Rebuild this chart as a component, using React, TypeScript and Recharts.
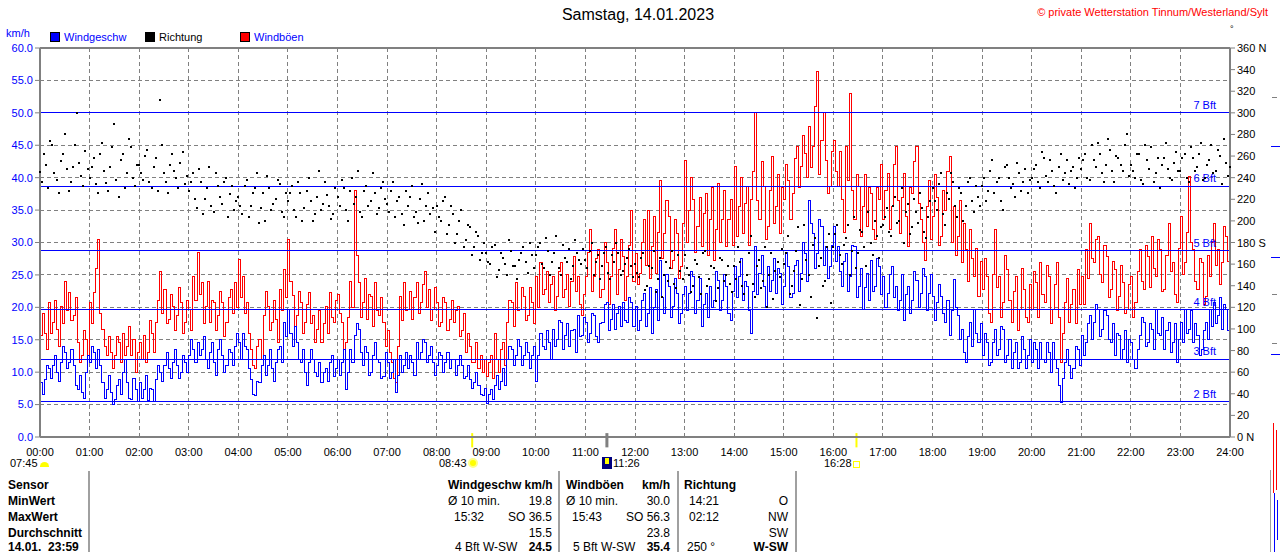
import React from 'react';
import { ComposedChart, Line, Scatter, XAxis, YAxis, CartesianGrid, ReferenceLine } from 'recharts';

// Time-axis tick labels (one per hour)
const hourLabels = [
  '00:00', '01:00', '02:00', '03:00', '04:00', '05:00', '06:00', '07:00', '08:00', '09:00', '10:00', '11:00', '12:00',
  '13:00', '14:00', '15:00', '16:00', '17:00', '18:00', '19:00', '20:00', '21:00', '22:00', '23:00', '24:00',
];
const kmTicks = [0, 5, 10, 15, 20, 25, 30, 35, 40, 45, 50, 55, 60];
const degTicks = [0, 20, 40, 60, 80, 100, 120, 140, 160, 180, 200, 220, 240, 260, 280, 300, 320, 340, 360];

// Wind speed km/h at every full 5 minutes, 00:00 .. 24:00 (12 per hour)
const speedKmh = [
  8.4, 8.9, 10.5, 11, 10, 11.5, 13, 11.5, 11, 7.4, 6.9, 10,
  11.5, 13, 13.5, 8.4, 7.4, 6.9, 5.8, 8.9, 10, 8.4, 5.8, 7.4,
  8.4, 7.4, 5.6, 7.4, 8.9, 10, 11, 10.5, 11.5, 11, 10, 11.5,
  12.5, 13.5, 14.6, 13.5, 12, 13, 11.5, 13.5, 12.5, 11, 13, 14,
  14.6, 16, 13.5, 8.9, 6.4, 8.4, 12.5, 11, 10.5, 11.5, 14, 17.6,
  19.7, 14, 14.6, 11.5, 10, 11.5, 12, 9.4, 8.4, 10.5, 11.5, 9.4,
  12, 11.5, 7.4, 13.5, 15.6, 16.6, 11, 13, 10, 14.6, 11.5, 9.4,
  11.5, 10, 6.9, 12.5, 11, 10.5, 11.5, 14.6, 13, 14.6, 12.5, 11.5,
  11, 12.5, 11.5, 10.5, 12, 11, 11, 9.4, 8.9, 8.4, 7.9, 6.4,
  5.1, 7.4, 7.9, 7.4, 10.5, 12, 13.5, 12.5, 14, 12.5, 13, 12.5,
  8.5, 16, 13.5, 14.6, 16.6, 15, 17.6, 15.6, 14, 16.6, 18.7, 15.6,
  17.6, 16, 18.7, 14.6, 17.6, 20.7, 18.2, 16.6, 20.2, 20.7, 17.6, 20.7,
  20.1, 18, 22.1, 19, 16, 22.7, 27.3, 19, 23.2, 20.1, 22.1, 19,
  23.2, 22.1, 24.7, 21.1, 17, 22.1, 23.2, 21.1, 24.2, 21.1, 23.2, 18,
  26.3, 24.7, 21.1, 23.2, 16, 29.4, 25.2, 23.2, 26.3, 24.2, 22.1, 25.2,
  23.2, 26.3, 22.1, 27.3, 25.2, 28.3, 36.5, 31.4, 28.3, 32.4, 29.4, 26.3,
  32.4, 29.4, 23.2, 28.3, 24.7, 29.4, 23.2, 19.6, 25.2, 27.3, 23.2, 26.3,
  24.7, 22.1, 26.3, 23.2, 21.1, 18, 23.2, 21.1, 24.2, 22.1, 24.7, 22.1,
  21.7, 20.7, 21.7, 17.6, 15.6, 24.3, 18.7, 16.6, 11.5, 17.6, 19.7, 14.6,
  12.5, 14.6, 11.5, 16.6, 13.5, 16.6, 12.5, 10.5, 14.6, 11.5, 13.5, 12.5,
  11.5, 13.5, 14.6, 11.5, 13, 14.6, 10.5, 5.3, 11.5, 11, 10.5, 13.5,
  15.6, 14.6, 18.7, 17.6, 19.7, 16.6, 18.7, 14.6, 12.5, 15.6, 13.5, 11.5,
  14.6, 10.5, 15.6, 17.6, 14.6, 16.6, 19.7, 15.6, 13.5, 17.6, 14.6, 11.5,
  17.6, 19.7, 16.6, 14.6, 15.6, 13.5, 17.6, 19.7, 20.7, 18.7, 16.6, 19.7,
  24.8,
];
// Wind speed km/h half-way between those samples (xx:02.5, xx:07.5, ...)
const speedMidKmh = [
  6.5, 11, 9, 12.5, 8.5, 14, 10.5, 13.5, 8, 9.5, 6, 12.5,
  14, 10.5, 11, 6, 9.5, 5, 8, 6.5, 12, 6, 9, 5.5,
  6, 9.5, 7.5, 5.5, 11, 8.5, 13, 9, 13.5, 9, 12.5, 10,
  15, 11.5, 12.5, 15.5, 10.5, 14.5, 9.5, 15, 10, 13.5, 11, 16,
  12, 14, 10.5, 6.5, 8.5, 11, 9.5, 13.5, 8.5, 13.5, 11.5, 15.5,
  16, 17, 12, 13.5, 8, 13.5, 10, 11.5, 10, 8.5, 12.5, 10.5,
  9.5, 13.5, 10, 11.5, 17.5, 13, 14, 9.5, 12.5, 12, 9, 13,
  9, 12, 9.5, 10, 13, 12.5, 9.5, 12, 15, 11.5, 14, 9.5,
  13, 10, 13, 12, 9.5, 12.5, 9, 11, 7.5, 10, 6.5, 7.5,
  6.5, 5.8, 9.5, 8.5, 8, 14, 11, 15, 11, 14.5, 10.5, 14,
  12.5, 14, 16.5, 12, 14, 18, 13.5, 17.5, 16.5, 13, 15.5, 18.5,
  14.5, 19, 15.5, 17.5, 20.5, 16.5, 20.5, 19, 17, 18, 21.5, 17,
  16.5, 21, 17, 23, 20, 18, 21.5, 25, 18.5, 24.5, 17.5, 22,
  19.5, 25.5, 19, 24.5, 20.5, 18.5, 20, 25.5, 19.5, 25, 19, 22.5,
  21.5, 27.5, 24, 19.5, 22.5, 22, 28, 20, 22.5, 27.5, 26, 20.5,
  28.5, 21.5, 26.5, 22.5, 30, 24, 33, 26, 33.5, 26.5, 24.5, 29.5,
  27, 25.5, 27, 22.5, 29.5, 21.5, 26, 23, 21, 22.5, 27.5, 22,
  20, 25, 21.5, 19.5, 25, 22, 19, 25.5, 20, 26, 19.5, 25,
  18, 23.5, 19, 21, 19.5, 20, 15, 13, 15.5, 14, 16, 17.5,
  16, 11, 14.5, 12.5, 17, 11.5, 15, 13, 10.5, 15.5, 10.5, 15,
  14.5, 10.5, 12, 14.5, 10, 12, 8, 9, 13.5, 9, 14, 11,
  12.5, 17.5, 15, 20.5, 15.5, 19.5, 15, 17.5, 16, 12, 16.5, 15,
  12, 13.5, 18.5, 14, 17.5, 13.5, 16, 18.5, 16.5, 13, 17.5, 15,
  14.5, 16, 19.5, 17.5, 12.5, 16.5, 15, 17, 17.5, 21.5, 20.5, 16.5,
];

// Wind gusts km/h at every full 5 minutes
const gustKmh = [
  15.6, 16, 20.7, 17.6, 16.6, 20.2, 24, 22.3, 18.7, 14.6, 12.5, 15,
  20.7, 22.3, 30.5, 16.6, 12.5, 13, 12.5, 14.6, 16, 14, 12.5, 10,
  14.6, 15.6, 13, 16, 17.6, 25.6, 22.8, 18.2, 20.2, 18.7, 20.7, 17.6,
  19.7, 24.8, 28.4, 23.8, 20.2, 17.6, 20.7, 18.7, 20.7, 17.6, 22.8, 23.8,
  27.4, 24.8, 20.7, 13.5, 10.5, 15, 18.7, 20.2, 17.6, 18.2, 22.8, 25.8,
  30.5, 21.8, 18.7, 20.7, 17.6, 22.3, 18.7, 16.6, 14.6, 20.2, 22.3, 17.6,
  22, 17.6, 14.6, 24, 38, 23.8, 20.7, 18.2, 21.6, 23.8, 18.7, 17.6,
  16.5, 11.5, 8.4, 21.6, 23.8, 19.7, 18.2, 23.8, 20.7, 25.6, 22.8, 19.7,
  20.7, 17.6, 20.7, 18.2, 17.6, 20.2, 16.5, 13, 14, 11.5, 10.5, 10,
  9.4, 12.5, 16, 10, 14.6, 17.6, 20.7, 23.8, 19.7, 21.6, 18.7, 20.7,
  24.8, 26.9, 22.8, 20.7, 24.8, 21.6, 26.9, 22.8, 20.2, 27.9, 24.8, 18.7,
  24.8, 32, 24.8, 28.9, 22.8, 26.9, 24.8, 32, 25.8, 27.9, 24.8, 35,
  28.3, 25.2, 33.5, 35, 29.4, 25.2, 39.6, 31.4, 34, 27.3, 31.4, 26.3,
  42.7, 35, 36.6, 32.4, 29.4, 37.6, 33.5, 27.3, 39.1, 33.5, 29.4, 36.6,
  41.7, 35.5, 31.4, 38.6, 36.6, 50, 33.5, 38.6, 32.4, 43.3, 35.5, 31.4,
  36.6, 39.6, 37.6, 44.8, 41.7, 43.8, 47.9, 44.8, 56.3, 45.8, 42.7, 38.6,
  45.8, 38.6, 36.6, 44.8, 53, 33.5, 38.6, 35.5, 32.4, 37.6, 30.4, 36.6,
  33.5, 40.7, 35.5, 44.8, 31.4, 40.7, 29.4, 37.6, 44.8, 33.5, 27.3, 39.6,
  34, 37, 31, 35, 43.3, 35.6, 31, 26.9, 28.9, 32, 24.8, 21.6,
  22.8, 24.8, 17.6, 32, 24.8, 20.7, 25.8, 17.6, 24.8, 19.7, 22.8, 17.6,
  19.7, 23.8, 26.9, 20.7, 24.8, 19.7, 26.9, 11.5, 20.7, 17.6, 22.8, 25.8,
  24.8, 28.9, 33, 26.9, 31, 23.8, 27.9, 22.8, 25.8, 21.6, 23.8, 19.7,
  24.8, 20.7, 28.9, 22.8, 27.9, 31, 24.8, 28.9, 22.8, 33, 26.9, 20.7,
  34, 26.9, 40.2, 28.9, 22.8, 26.9, 21.6, 24.8, 33, 28.9, 26.9, 31,
  35,
];
// Wind gusts km/h half-way between those samples
const gustMidKmh = [
  19, 13.5, 16, 21, 14, 17.5, 19.5, 18, 21.5, 11.5, 16.5, 12,
  17.5, 26, 19, 14, 15.5, 10.5, 15.5, 11.5, 12.5, 17, 15, 13,
  12, 11.5, 18, 13, 21, 19, 17.5, 22, 16.5, 23, 16, 21,
  16.5, 21, 22, 17.5, 24, 21, 16.5, 22.5, 15.5, 21.5, 19, 20,
  21.5, 19, 16, 11, 14, 12, 22.5, 16.5, 21, 14.5, 19.5, 21.5,
  24, 17, 22.5, 16, 20.5, 17.5, 14.5, 19.5, 17.5, 16, 18.5, 21,
  19, 13.5, 18.5, 20, 28, 18.5, 24.5, 22, 17, 19.5, 21.5, 14,
  13, 9, 14, 18, 19.5, 22.5, 21.5, 19, 23.5, 20, 18, 23,
  17, 21.5, 16.5, 21, 19.5, 15.5, 19, 16, 11.5, 14.5, 12.5, 12,
  11.5, 9, 12, 13.5, 11, 21, 17, 19.5, 23, 18, 23, 17.5,
  20, 22, 25.5, 23.5, 19.5, 25.5, 21.5, 25, 24, 22.5, 20.5, 22,
  28.5, 22.5, 27.5, 21.5, 30, 20.5, 29, 22, 30.5, 21, 29.5, 24,
  23.5, 30, 26.5, 24.5, 34, 31.5, 27.5, 36.5, 26, 33.5, 24.5, 33,
  30, 40, 28.5, 37, 34.5, 28, 38.5, 32, 30, 38, 33.5, 29.5,
  31, 40, 36, 29.5, 41, 36.5, 42.5, 30.5, 38, 33, 40.5, 38.5,
  42, 33.5, 43, 38.5, 46.5, 40, 41.5, 51, 40.5, 50, 37.5, 44,
  41, 44, 31.5, 39.5, 38, 40.5, 31, 40.5, 38.5, 32, 38.5, 42,
  38, 32, 42, 36.5, 37, 34, 38.5, 42.5, 36, 30, 35.5, 30.5,
  40.5, 29.5, 38, 41, 30, 28, 36.5, 33, 24, 27.5, 29, 27,
  27.5, 19, 25, 23, 18.5, 28, 21, 22.5, 16.5, 26, 18.5, 23.5,
  25.5, 18.5, 22, 26.5, 17.5, 23.5, 18.5, 16, 24.5, 20.5, 17.5, 20.5,
  20.5, 24.5, 27.5, 30.5, 25, 29.5, 21.5, 27, 19.5, 26.5, 19, 23.5,
  18.5, 25.5, 24, 29.5, 23, 26, 30.5, 22.5, 28, 25.5, 22, 29,
  25, 31.5, 30, 24, 27.5, 20.5, 28, 30, 26.5, 23.5, 32.5, 27,
];

// Wind direction in degrees at every full 5 minutes
const directionDeg = [
  245, 262, 230, 270, 238, 255, 280, 228, 250, 300, 242, 265,
  240, 258, 226, 272, 235, 250, 290, 222, 262, 244, 268, 232,
  252, 238, 266, 230, 258, 312, 244, 226, 262, 240, 254, 234,
  228, 244, 212, 236, 220, 250, 208, 232, 216, 240, 225, 210,
  222, 206, 238, 214, 230, 198, 226, 242, 210, 220, 234, 204,
  218, 232, 204, 226, 212, 240, 200, 222, 210, 236, 214, 206,
  222, 238, 210, 228, 216, 246, 204, 232, 218, 226, 212, 236,
  216, 228, 204, 222, 196, 214, 232, 208, 220, 200, 226, 212,
  214, 200, 222, 196, 206, 188, 210, 182, 194, 176, 186, 170,
  170, 160, 178, 155, 166, 150, 172, 158, 164, 176, 152, 168,
  168, 180, 156, 172, 162, 186, 150, 166, 174, 158, 170, 160,
  164, 172, 150, 168, 158, 176, 146, 162, 170, 154, 166, 158,
  160, 148, 170, 140, 156, 134, 166, 150, 144, 172, 138, 154,
  168, 150, 140, 160, 132, 172, 146, 156, 138, 164, 150, 142,
  158, 176, 140, 150, 186, 130, 164, 144, 120, 170, 154, 148,
  160, 186, 140, 172, 122, 196, 150, 178, 110, 166, 144, 188,
  176, 196, 160, 184, 150, 204, 170, 190, 158, 180, 200, 166,
  196, 212, 186, 222, 200, 180, 216, 194, 208, 226, 190, 204,
  230, 210, 244, 196, 220, 236, 204, 226, 214, 240, 208, 222,
  232, 218, 246, 226, 240, 210, 252, 230, 222, 244, 236, 226,
  240, 252, 230, 258, 236, 246, 226, 262, 244, 234, 250, 240,
  248, 262, 238, 256, 272, 244, 252, 266, 236, 258, 246, 280,
  252, 240, 262, 234, 256, 268, 244, 230, 258, 248, 238, 264,
  246, 262, 236, 258, 250, 272, 240, 256, 244, 266, 234, 254,
  250,
];
// Wind direction in degrees half-way between those samples
const directionMidDeg = [
  236, 252, 274, 244, 226, 262, 248, 236, 270, 254, 232, 248,
  250, 234, 262, 246, 228, 268, 238, 256, 230, 276, 240, 252,
  244, 260, 236, 250, 228, 270, 236, 252, 246, 230, 264, 242,
  236, 220, 248, 206, 230, 214, 244, 222, 236, 204, 232, 218,
  214, 232, 204, 226, 244, 212, 200, 230, 216, 238, 208, 226,
  226, 210, 236, 200, 228, 218, 206, 246, 216, 224, 202, 230,
  214, 230, 200, 240, 222, 208, 228, 214, 244, 206, 230, 220,
  208, 236, 218, 206, 228, 222, 204, 198, 234, 214, 206, 190,
  204, 218, 188, 214, 180, 200, 176, 196, 168, 190, 164, 180,
  162, 176, 148, 170, 160, 182, 158, 146, 170, 162, 180, 156,
  176, 160, 184, 150, 170, 156, 178, 162, 146, 182, 164, 174,
  156, 180, 162, 146, 170, 152, 168, 180, 150, 160, 174, 148,
  152, 166, 136, 158, 172, 146, 130, 162, 156, 142, 168, 146,
  156, 134, 164, 148, 170, 140, 158, 126, 166, 144, 158, 134,
  146, 162, 132, 170, 142, 158, 138, 176, 150, 128, 162, 174,
  170, 132, 154, 194, 146, 164, 130, 184, 158, 140, 176, 124,
  188, 168, 178, 196, 172, 156, 192, 176, 208, 168, 186, 194,
  204, 190, 214, 198, 230, 208, 188, 220, 198, 212, 184, 218,
  218, 234, 206, 226, 244, 214, 230, 200, 236, 218, 232, 214,
  240, 228, 256, 236, 218, 250, 240, 234, 254, 228, 248, 238,
  248, 236, 264, 242, 256, 232, 250, 238, 256, 246, 230, 258,
  256, 240, 270, 250, 262, 236, 276, 246, 260, 252, 270, 242,
  246, 262, 238, 270, 248, 236, 258, 252, 272, 240, 254, 246,
  258, 240, 268, 246, 262, 238, 252, 270, 246, 260, 276, 242,
];

// Beaufort thresholds (km/h) and their labels
const bftLevels = [5.4, 12, 19.6, 28.7, 38.7, 50];
const bftLabels = ['2 Bft', '3 Bft', '4 Bft', '5 Bft', '6 Bft', '7 Bft'];

// Marks on the time axis (minutes after midnight): sunrise, noon, sunset
const timeMarkMinutes = [523, 686, 988];
const timeMarkColors = ['#ffff00', '#808080', '#ffff00'];

const rows: { t: number; speed: number; gust: number; dir: number }[] = [];
speedKmh.forEach((s, i) => {
  rows.push({ t: i * 5, speed: s, gust: gustKmh[i], dir: directionDeg[i] });
  if (i < speedMidKmh.length) {
    rows.push({ t: i * 5 + 2.5, speed: speedMidKmh[i], gust: gustMidKmh[i], dir: directionMidDeg[i] });
  }
});
const hourTicks = hourLabels.map((_, i) => i * 60);

const FONT = '"Liberation Sans", Arial, sans-serif';

const BftLabel = (props: any) => {
  const { viewBox, text } = props;
  if (!viewBox) return null;
  return (
    <text x={viewBox.x + viewBox.width - 14} y={viewBox.y - 4} textAnchor="end" fill="#0000ff" fontSize={11} fontFamily={FONT}>
      {text}
    </text>
  );
};

const DegTick = (props: any) => {
  const { x, y, payload } = props;
  const v = payload.value;
  const suffix = v === 0 || v === 360 ? ' N' : v === 180 ? ' S' : '';
  return (
    <text x={x} y={y} dy={4} textAnchor="start" fontSize={11} fill="#000" fontFamily={FONT}>
      {`${v}${suffix}`}
    </text>
  );
};

const DirDot = (props: any) => {
  const { cx, cy } = props;
  if (cx == null || cy == null) return null;
  return <rect x={Math.round(cx - 1)} y={Math.round(cy - 1)} width={2} height={2} fill="#000" />;
};

const T = (p: { x: number; y: number; children: React.ReactNode; size?: number; color?: string; bold?: boolean; right?: boolean }) => {
  const size = p.size ?? 12;
  const style: React.CSSProperties = {
    position: 'absolute',
    top: p.y - 7,
    lineHeight: '14px',
    fontSize: size,
    color: p.color ?? '#000',
    fontWeight: p.bold ? 'bold' : 'normal',
    whiteSpace: 'pre',
  };
  if (p.right) style.right = 1280 - p.x;
  else style.left = p.x;
  return <div style={style}>{p.children}</div>;
};

const Box = (p: { x: number; y: number; w: number; h: number; bg?: string; border?: string; radius?: string }) => (
  <div
    style={{
      position: 'absolute',
      left: p.x,
      top: p.y,
      width: p.w,
      height: p.h,
      background: p.bg ?? 'transparent',
      border: p.border,
      borderRadius: p.radius,
      boxSizing: 'border-box',
    }}
  />
);

export default function App() {
  const rowY = [485, 501, 517, 533, 547];
  return (
    <div style={{ position: 'absolute', left: 0, top: 0, width: 1280, height: 552, background: '#fff', overflow: 'hidden', fontFamily: FONT }}>
      <div style={{ position: 'absolute', left: 0, top: 0 }}>
        <ComposedChart width={1280} height={480} data={rows} margin={{ top: 48, right: 0, bottom: 13, left: 0 }}>
          <CartesianGrid stroke="#808080" strokeDasharray="4 3" shapeRendering="crispEdges" />
          <XAxis
            type="number"
            dataKey="t"
            domain={[0, 1440]}
            ticks={hourTicks}
            interval={0}
            tickFormatter={(v: number) => hourLabels[Math.round(v / 60)]}
            height={30}
            axisLine={{ stroke: '#808080', strokeWidth: 2 }}
            tickLine={false}
            tickSize={9}
            tick={{ fill: '#000', fontSize: 11, fontFamily: FONT }}
          />
          <YAxis
            domain={[0, 60]}
            ticks={kmTicks}
            interval={0}
            width={40}
            tickFormatter={(v: number) => v.toFixed(1)}
            axisLine={{ stroke: '#808080', strokeWidth: 2 }}
            tickLine={{ stroke: '#808080' }}
            tickSize={5}
            tick={{ fill: '#0000ff', fontSize: 11, fontFamily: FONT }}
          />
          <YAxis
            yAxisId="deg"
            orientation="right"
            domain={[0, 360]}
            ticks={degTicks}
            interval={0}
            width={50}
            axisLine={{ stroke: '#808080', strokeWidth: 2 }}
            tickLine={{ stroke: '#808080' }}
            tickSize={5}
            tick={<DegTick />}
          />
          <ReferenceLine y={60} stroke="#808080" strokeWidth={2} />
          <Line
            dataKey="gust"
            type="stepAfter"
            stroke="#ff0000"
            strokeWidth={1}
            shapeRendering="crispEdges"
            dot={false}
            isAnimationActive={false}
          />
          <Line
            dataKey="speed"
            type="stepAfter"
            stroke="#0000ff"
            strokeWidth={1}
            shapeRendering="crispEdges"
            dot={false}
            isAnimationActive={false}
          />
          {bftLevels.map((lv, i) => (
            <ReferenceLine
              key={`bft${i}`}
              y={lv}
              stroke="#0000ff"
              strokeWidth={1}
              shapeRendering="crispEdges"
              label={<BftLabel text={bftLabels[i]} />}
            />
          ))}
          <Scatter yAxisId="deg" dataKey="dir" shape={<DirDot />} isAnimationActive={false} />
          {timeMarkMinutes.map((m, i) => (
            <ReferenceLine
              key={`mark${i}`}
              segment={[{ x: m, y: -1.6 }, { x: m, y: 0.6 }]}
              stroke={timeMarkColors[i]}
              strokeWidth={i === 1 ? 3 : 2}
              ifOverflow="visible"
            />
          ))}
        </ComposedChart>
      </div>

      {/* header */}
      <div style={{ position: 'absolute', left: 0, width: 1276, top: 5, textAlign: 'center', fontSize: 16, lineHeight: '20px', color: '#000' }}>
        Samstag, 14.01.2023
      </div>
      <T x={1268} y={12} size={11} color="#ff0000" right>
        © private Wetterstation Tinnum/Westerland/Sylt
      </T>
      <T x={1230} y={29} size={9}>°</T>
      <T x={6} y={33} size={11} color="#0000ff">km/h</T>
      <Box x={50} y={32} w={10} h={10} bg="#0000ff" border="1px solid #000" />
      <T x={64} y={37} size={11} color="#0000ff">Windgeschw</T>
      <Box x={145} y={32} w={10} h={10} bg="#000" border="1px solid #000" />
      <T x={159} y={37} size={11}>Richtung</T>
      <Box x={240} y={32} w={10} h={10} bg="#ff0000" border="1px solid #000" />
      <T x={254} y={37} size={11} color="#0000ff">Windböen</T>

      {/* sun times */}
      <T x={10} y={463} size={11}>07:45</T>
      <Box x={40} y={462} w={9} h={5} bg="#ffff00" radius="5px 5px 0 0" />
      <T x={439} y={463} size={11}>08:43</T>
      <Box x={468} y={458} w={10} h={10} bg="#ffff00" border="2px solid #ffff88" radius="50%" />
      <Box x={602} y={457} w={10} h={12} bg="#000080" />
      <Box x={605} y={458} w={4} h={6} bg="#ffff00" />
      <T x={613} y={463} size={11}>11:26</T>
      <T x={824} y={463} size={11}>16:28</T>
      <Box x={853} y={461} w={7} h={7} bg="#fff" border="1px solid #ffff00" />

      {/* table dividers */}
      {[88, 558, 677, 795].map((x) => (
        <Box key={x} x={x} y={471} w={2} h={81} bg="#a0a0a0" />
      ))}

      {/* table */}
      <T x={8} y={rowY[0]} bold>Sensor</T>
      <T x={8} y={rowY[1]} bold>MinWert</T>
      <T x={8} y={rowY[2]} bold>MaxWert</T>
      <T x={8} y={rowY[3]} bold>Durchschnitt</T>
      <T x={8} y={rowY[4]} bold>14.01.  23:59</T>

      <T x={448} y={rowY[0]} bold>Windgeschw km/h</T>
      <T x={448} y={rowY[1]}>Ø 10 min.</T>
      <T x={552} y={rowY[1]} right>19.8</T>
      <T x={454} y={rowY[2]}>15:32</T>
      <T x={552} y={rowY[2]} right>SO 36.5</T>
      <T x={552} y={rowY[3]} right>15.5</T>
      <T x={455} y={rowY[4]}>4 Bft W-SW</T>
      <T x={552} y={rowY[4]} right bold>24.5</T>

      <T x={566} y={rowY[0]} bold>Windböen</T>
      <T x={670} y={rowY[0]} right bold>km/h</T>
      <T x={566} y={rowY[1]}>Ø 10 min.</T>
      <T x={670} y={rowY[1]} right>30.0</T>
      <T x={572} y={rowY[2]}>15:43</T>
      <T x={670} y={rowY[2]} right>SO 56.3</T>
      <T x={670} y={rowY[3]} right>23.8</T>
      <T x={573} y={rowY[4]}>5 Bft W-SW</T>
      <T x={670} y={rowY[4]} right bold>35.4</T>

      <T x={684} y={rowY[0]} bold>Richtung</T>
      <T x={689} y={rowY[1]}>14:21</T>
      <T x={788} y={rowY[1]} right>O</T>
      <T x={689} y={rowY[2]}>02:12</T>
      <T x={788} y={rowY[2]} right>NW</T>
      <T x={788} y={rowY[3]} right>SW</T>
      <T x={687} y={rowY[4]}>250 °</T>
      <T x={788} y={rowY[4]} right bold>W-SW</T>

      {/* fragment of the neighbouring chart at the right edge */}
      <Box x={1271} y={146} w={9} h={1} bg="#0000ff" />
      <Box x={1271} y={257} w={9} h={1} bg="#0000ff" />
      <Box x={1271} y={354} w={9} h={1} bg="#0000ff" />
      <Box x={1272} y={97} w={5} h={1} bg="#808080" />
      <Box x={1272} y={294} w={5} h={1} bg="#808080" />
      <Box x={1272} y={343} w={5} h={1} bg="#808080" />
      <Box x={1270} y={470} w={1} h={82} bg="#a0a0a0" />
      <Box x={1273} y={423} w={1} h={70} bg="#ff0000" />
      <Box x={1276} y={430} w={1} h={60} bg="#ff0000" />
      <Box x={1274} y={493} w={1} h={59} bg="#0000ff" />
      <Box x={1277} y={500} w={1} h={40} bg="#0000ff" />
    </div>
  );
}
